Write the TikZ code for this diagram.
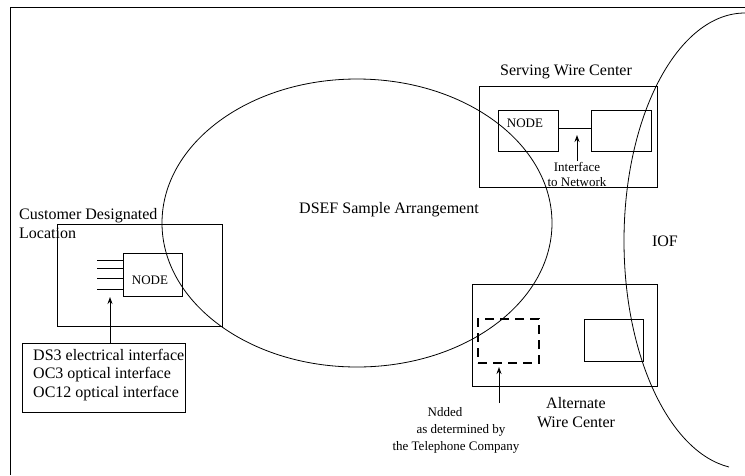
\documentclass[tikz,border=0pt]{standalone}
\usepackage{fontspec}
\setmainfont{Liberation Serif}
\usetikzlibrary{arrows.meta}
\begin{document}
\begin{tikzpicture}[x=1pt,y=-1pt,
  line/.style={draw, line width=0.9pt},
  curve/.style={draw, line width=0.8pt},
  box/.style={draw, line width=0.9pt, inner sep=0pt},
  dashbox/.style={draw, line width=2.4pt, dash pattern=on 9pt off 6pt, inner sep=0pt},
  bigtext/.style={inner sep=0pt, font=\fontsize{16}{19}\selectfont},
  smalltext/.style={inner sep=0pt, font=\fontsize{13}{17}\selectfont},
  pointer/.style={draw, line width=0.9pt, -{Stealth[length=7pt,width=5pt]}}]
\useasboundingbox (0,0) rectangle (745,475);
% outer frame
\coordinate (frTR) at (745,7);
\coordinate (frTL) at (10,7);
\coordinate (frBL) at (10,475);
\draw[line] (frTR) -- (frTL) -- (frBL);
% DSEF ellipse
\draw[curve] (357,223) ellipse [x radius=195pt, y radius=144pt];
\node[bigtext] (dsef) at (389,210) {DSEF Sample Arrangement};
% IOF arc
\draw[curve] (745,13) arc[start angle=90, end angle=262.4, x radius=121pt, y radius=228pt];
\node[bigtext] (iof) at (665,241) {IOF};
% Customer Designated Location
\node[bigtext, anchor=west, align=left] (cdltitle) at (19,223.5) {Customer Designated\\Location};
\node[box, minimum width=165pt, minimum height=102pt] (cdl) at (139.5,275) {};
\node[box, minimum width=59pt, minimum height=43pt] (cdlnode) at (152.5,274.5) {};
\node[smalltext] (cdlnodetext) at (150,280) {NODE};
\foreach \i/\y in {1/260,2/268,3/278,4/289}{
  \coordinate (stubA\i) at (97,\y);
  \draw[line] (stubA\i) -- (stubA\i -| cdlnode.west);
}
\node[box, minimum width=163pt, minimum height=69pt] (ifbox) at (103.5,377.5) {};
\node[bigtext, anchor=west, align=left, font=\fontsize{16}{18.5}\selectfont] (iftext) at (33,375)
  {DS3 electrical interface\\OC3 optical interface\\OC12 optical interface};
\coordinate (cdltip) at (110,297);
\draw[pointer] (ifbox.north -| cdltip) -- (cdltip);
% Serving Wire Center
\node[bigtext] (swctitle) at (566,72) {Serving Wire Center};
\node[box, minimum width=178pt, minimum height=101pt] (swc) at (568,136.5) {};
\node[box, minimum width=60pt, minimum height=41pt] (swcnode) at (528,130.5) {};
\node[smalltext] (swcnodetext) at (525,123) {NODE};
\node[box, minimum width=60pt, minimum height=41pt] (swcright) at (621,130.5) {};
\draw[line] ([yshift=2.5pt]swcnode.east) -- ([yshift=2.5pt]swcright.west);
\node[smalltext, align=center, font=\fontsize{13}{15}\selectfont] (swclabel) at (577,174.5) {Interface\\to Network};
\coordinate (swctip) at (577,135);
\draw[pointer] ([yshift=1pt]swclabel.north) -- (swctip);
% Alternate Wire Center
\node[box, minimum width=185pt, minimum height=102pt] (awc) at (564.5,335) {};
\node[dashbox, minimum width=61pt, minimum height=44pt] (awcdash) at (508.5,341) {};
\node[box, minimum width=59pt, minimum height=42pt] (awcright) at (613.5,340) {};
\node[bigtext, align=center] (awclabel) at (576,412.5) {Alternate\\Wire Center};
\coordinate (awcstart) at (499,403);
\coordinate (awctip) at (499,367);
\draw[pointer] (awcstart) -- (awctip);
\node[smalltext] (nd1) at (445,412) {Ndded};
\node[smalltext] (nd2) at (461,430) {as determined by};
\node[smalltext] (nd3) at (456,447) {the Telephone Company};
\end{tikzpicture}
\end{document}
